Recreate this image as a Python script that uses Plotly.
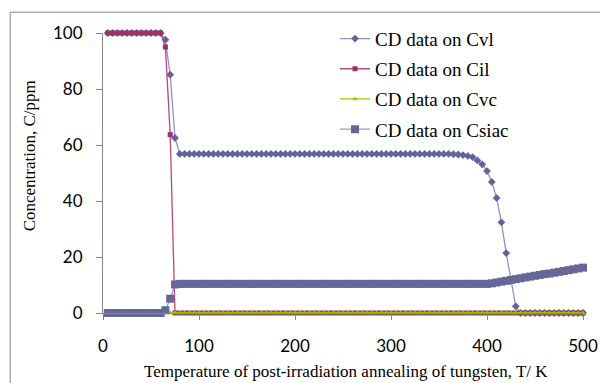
import plotly.graph_objects as go

# Temperature, K
temperature = [5, 10, 15, 20, 25, 30, 35, 40, 45, 50,
               55, 60, 65, 70, 75, 80, 85, 90, 95, 100,
               105, 110, 115, 120, 125, 130, 135, 140, 145, 150,
               155, 160, 165, 170, 175, 180, 185, 190, 195, 200,
               205, 210, 215, 220, 225, 230, 235, 240, 245, 250,
               255, 260, 265, 270, 275, 280, 285, 290, 295, 300,
               305, 310, 315, 320, 325, 330, 335, 340, 345, 350,
               355, 360, 365, 370, 375, 380, 385, 390, 395, 400,
               405, 410, 415, 420, 425, 430, 435, 440, 445, 450,
               455, 460, 465, 470, 475, 480, 485, 490, 495, 500]

cvl = [100, 100, 100, 100, 100, 100, 100, 100, 100, 100,
       100, 100, 97.6, 85.1, 62.5, 56.8, 56.8, 56.8, 56.8, 56.8,
       56.8, 56.8, 56.8, 56.8, 56.8, 56.8, 56.8, 56.8, 56.8, 56.8,
       56.8, 56.8, 56.8, 56.8, 56.8, 56.8, 56.8, 56.8, 56.8, 56.8,
       56.8, 56.8, 56.8, 56.8, 56.8, 56.8, 56.8, 56.8, 56.8, 56.8,
       56.8, 56.8, 56.8, 56.8, 56.8, 56.8, 56.8, 56.8, 56.8, 56.8,
       56.8, 56.8, 56.8, 56.8, 56.8, 56.8, 56.8, 56.8, 56.8, 56.8,
       56.8, 56.8, 56.7, 56.6, 56.4, 56.1, 55.7, 54.5, 53.1, 50.7,
       46.8, 41.1, 32.4, 21.4, 11.5, 2.4, 0, 0, 0, 0,
       0, 0, 0, 0, 0, 0, 0, 0, 0, 0]

cil = [100, 100, 100, 100, 100, 100, 100, 100, 100, 100,
       100, 100, 95, 63.7, 0, 0, 0, 0, 0, 0,
       0, 0, 0, 0, 0, 0, 0, 0, 0, 0,
       0, 0, 0, 0, 0, 0, 0, 0, 0, 0,
       0, 0, 0, 0, 0, 0, 0, 0, 0, 0,
       0, 0, 0, 0, 0, 0, 0, 0, 0, 0,
       0, 0, 0, 0, 0, 0, 0, 0, 0, 0,
       0, 0, 0, 0, 0, 0, 0, 0, 0, 0,
       0, 0, 0, 0, 0, 0, 0, 0, 0, 0,
       0, 0, 0, 0, 0, 0, 0, 0, 0, 0]

cvc = [0, 0, 0, 0, 0, 0, 0, 0, 0, 0,
       0, 0, 0, 0, 0, 0, 0, 0, 0, 0,
       0, 0, 0, 0, 0, 0, 0, 0, 0, 0,
       0, 0, 0, 0, 0, 0, 0, 0, 0, 0,
       0, 0, 0, 0, 0, 0, 0, 0, 0, 0,
       0, 0, 0, 0, 0, 0, 0, 0, 0, 0,
       0, 0, 0, 0, 0, 0, 0, 0, 0, 0,
       0, 0, 0, 0, 0, 0, 0, 0, 0, 0,
       0, 0, 0, 0, 0, 0, 0, 0, 0, 0,
       0, 0, 0, 0, 0, 0, 0, 0, 0, 0]

csiac = [0, 0, 0, 0, 0, 0, 0, 0, 0, 0,
         0, 0, 1.0, 5.1, 10.2, 10.4, 10.4, 10.4, 10.4, 10.4,
         10.4, 10.4, 10.4, 10.4, 10.4, 10.4, 10.4, 10.4, 10.4, 10.4,
         10.4, 10.4, 10.4, 10.4, 10.4, 10.4, 10.4, 10.4, 10.4, 10.4,
         10.4, 10.4, 10.4, 10.4, 10.4, 10.4, 10.4, 10.4, 10.4, 10.4,
         10.4, 10.4, 10.4, 10.4, 10.4, 10.4, 10.4, 10.4, 10.4, 10.4,
         10.4, 10.4, 10.4, 10.4, 10.4, 10.4, 10.4, 10.4, 10.4, 10.4,
         10.4, 10.4, 10.4, 10.4, 10.4, 10.4, 10.4, 10.4, 10.4, 10.4,
         10.6, 10.9, 11.2, 11.5, 11.8, 12.1, 12.4, 12.7, 13.0, 13.3,
         13.6, 13.9, 14.1, 14.4, 14.7, 15.0, 15.3, 15.6, 15.9, 16.2]

names = ["CD data on Cvl", "CD data on Cil", "CD data on Cvc", "CD data on Csiac"]

W, H = 600, 383
L, R, T, B = 102.5, 16.5, 33.3, 69.7

fig = go.Figure()
fig.add_trace(go.Scatter(x=temperature, y=cvl, name=names[0], mode="lines+markers",
                         line=dict(color="#9191C4", width=1.3),
                         marker=dict(symbol="diamond", size=6, color="#62629E"),
                         cliponaxis=False, legendgroup="a"))
fig.add_trace(go.Scatter(x=temperature, y=cil, name=names[1], mode="lines+markers",
                         line=dict(color="#B8487E", width=1.3),
                         marker=dict(symbol="square", size=5, color="#993366"),
                         cliponaxis=False, legendgroup="b"))
fig.add_trace(go.Scatter(x=temperature, y=cvc, name=names[2], mode="lines+markers",
                         line=dict(color="#99CC00", width=1.3),
                         marker=dict(symbol="triangle-up", size=5, color="#99CC00"),
                         cliponaxis=False, legendgroup="c"))
fig.add_trace(go.Scatter(x=temperature, y=csiac, name=names[3], mode="lines+markers",
                         line=dict(color="#9A9AC8", width=1.3),
                         marker=dict(symbol="square", size=8, color="#666699"),
                         cliponaxis=False, legendgroup="d"))

pw = W - L - R
ph = H - T - B

def px_x(p):
    return (p - L) / pw

def px_y(p):
    return (H - B - p) / ph

serif = "Liberation Serif, Times New Roman, serif"
sans = "Lato, Open Sans, sans-serif"

fig.add_shape(type="rect", xref="paper", yref="paper",
              x0=px_x(9.5), x1=px_x(640), y0=px_y(12.5), y1=px_y(420),
              line=dict(color="#868686", width=1), fillcolor="rgba(0,0,0,0)", layer="below")

fig.add_annotation(text="Concentration, C/ppm", xref="paper", yref="paper",
                   x=px_x(29), y=px_y(156), textangle=-90, showarrow=False,
                   font=dict(family=serif, size=17, color="#000000"),
                   xanchor="center", yanchor="middle")
fig.add_annotation(text="Temperature of post-irradiation annealing of tungsten, T/ K",
                   xref="paper", yref="paper",
                   x=px_x(346), y=px_y(372), showarrow=False,
                   font=dict(family=serif, size=17, color="#000000"),
                   xanchor="center", yanchor="middle")

fig.update_layout(
    width=W, height=H,
    margin=dict(l=L, r=R, t=T, b=B, pad=0, autoexpand=False),
    paper_bgcolor="white", plot_bgcolor="white",
    showlegend=True,
    legend=dict(x=px_x(335), y=px_y(20), xanchor="left", yanchor="top",
                font=dict(family=serif, size=19, color="#000000"),
                bgcolor="rgba(0,0,0,0)", tracegroupgap=2.5, traceorder="grouped",
                itemwidth=30),
    xaxis=dict(range=[0, 500], tickvals=[0, 100, 200, 300, 400, 500],
               automargin=False,
               showgrid=False, zeroline=False, showline=True,
               linecolor="#868686", linewidth=1, ticks="outside", ticklen=6,
               tickcolor="#868686", ticklabelstandoff=12,
               tickfont=dict(family=sans, size=17, color="#000000")),
    yaxis=dict(range=[0, 100], tickvals=[0, 20, 40, 60, 80, 100],
               automargin=False,
               showgrid=False, zeroline=False, showline=True,
               linecolor="#868686", linewidth=1, ticks="outside", ticklen=6,
               tickcolor="#868686", ticklabelstandoff=10,
               tickfont=dict(family=sans, size=17, color="#000000")),
)

fig.write_html("out.html", config={"displayModeBar": False},
               post_script="document.body.style.margin='0';document.body.style.overflow='hidden';")
